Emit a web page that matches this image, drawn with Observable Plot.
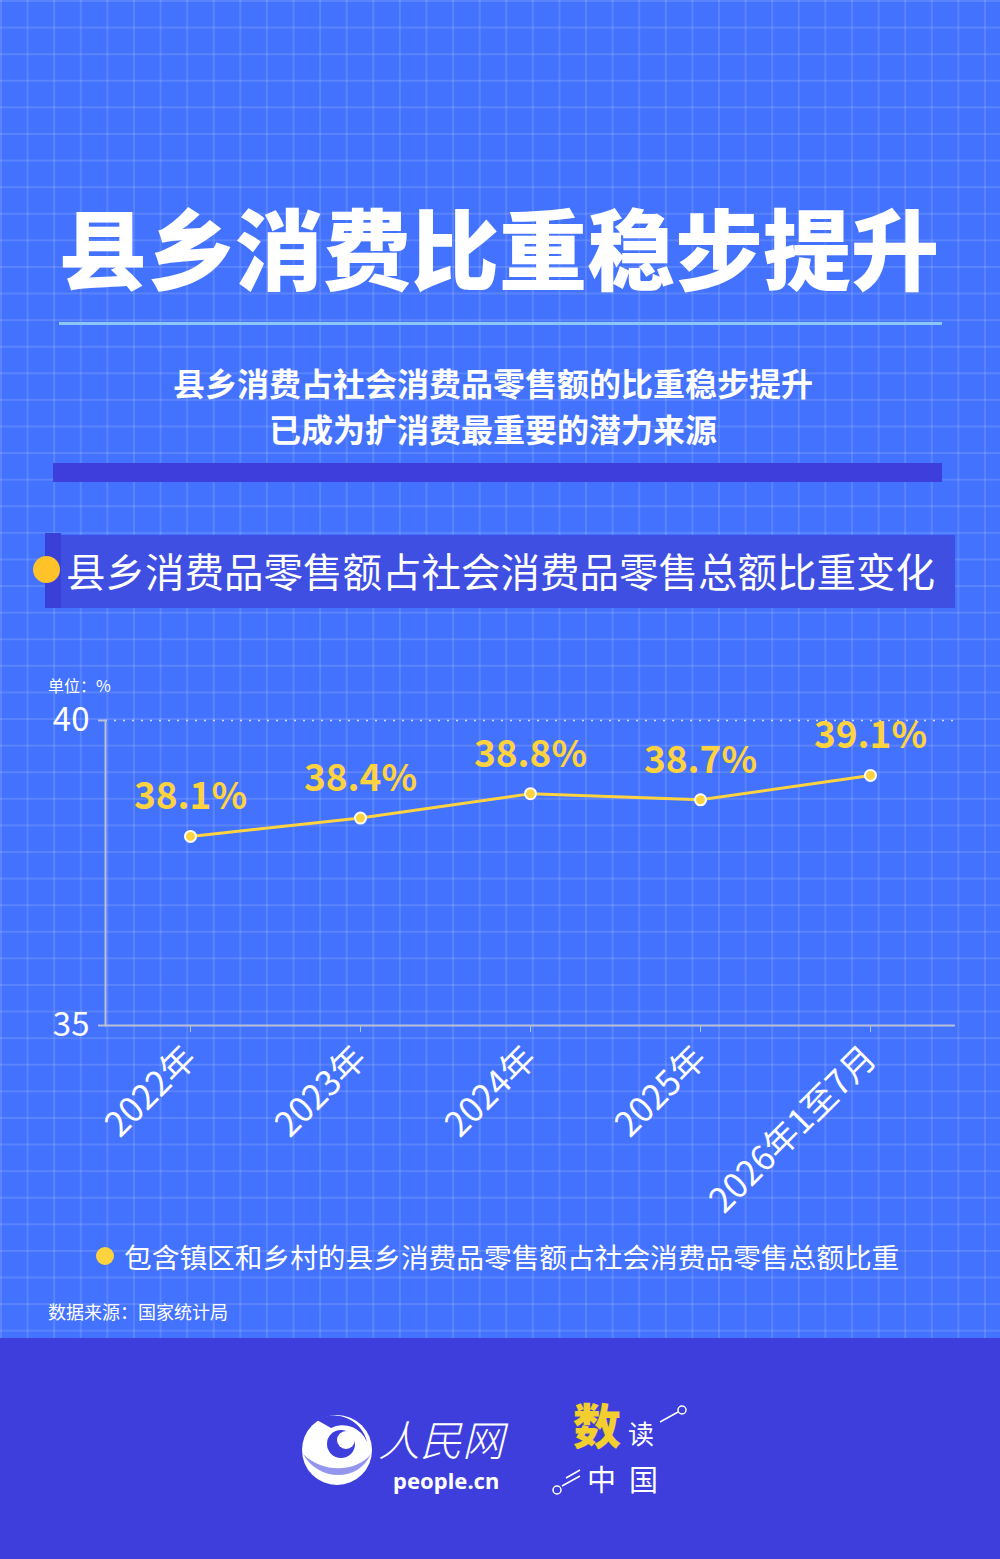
<!DOCTYPE html>
<html>
<head>
<meta charset="utf-8">
<script src="https://cdn.jsdelivr.net/npm/d3@7"></script>
<script src="https://cdn.jsdelivr.net/npm/@observablehq/plot@0.6"></script>
<style>
  html, body { margin:0; padding:0; }
  body {
    width:1000px; height:1559px; position:relative; overflow:hidden;
    font-family:"Noto Sans CJK SC","Noto Sans",sans-serif;
    background-color:#4372FE;
    background-image:
      linear-gradient(rgba(255,255,255,0.12) 1.5px, transparent 1.5px),
      linear-gradient(90deg, rgba(255,255,255,0.12) 1.5px, transparent 1.5px);
    background-size:26.6px 26.6px;
    background-position:0 0;
  }
  .abs { position:absolute; }
  #title { left:0; width:998px; top:193px; text-align:center; color:#fff; font-size:88px; font-weight:900; line-height:104px; }
  #titleRule { left:59px; width:883px; top:322px; height:3px; background:#8CC6F4; }
  #sub { left:0; width:986px; top:359px; text-align:center; color:#fff; font-size:32px; font-weight:700; line-height:46px; }
  #band { left:53px; width:889px; top:463px; height:19px; background:#3D3EDB; }
  #headBox { left:61px; width:894px; top:535px; height:73px; background:#3F4FE2; }
  #headStrip { left:45px; width:16px; top:533px; height:75px; background:#3A40D7; }
  #headDot { left:33px; top:556px; width:27px; height:27px; border-radius:50%; background:#FFC229; }
  #headText { left:66px; top:539px; color:#fff; font-size:39.5px; line-height:62px; white-space:nowrap; }
  #unit { left:48px; top:675px; color:#fff; font-size:16px; line-height:20px; }
  #chart { left:0; top:660px; }
  #legDot { left:96px; top:1247px; width:18px; height:18px; border-radius:50%; background:#FFD33D; }
  #legText { left:124px; top:1238px; color:#fff; font-size:27.7px; line-height:36px; white-space:nowrap; }
  #source { left:48px; top:1298px; color:#fff; font-size:18px; line-height:26px; white-space:nowrap; }
  #footer { left:0; top:1338px; width:1000px; height:221px; background:#3D3EDC; }
</style>
</head>
<body>
<div id="title" class="abs">县乡消费比重稳步提升</div>
<div id="titleRule" class="abs"></div>
<div id="sub" class="abs">县乡消费占社会消费品零售额的比重稳步提升<br>已成为扩消费最重要的潜力来源</div>
<div id="band" class="abs"></div>
<div id="headBox" class="abs"></div>
<div id="headStrip" class="abs"></div>
<div id="headDot" class="abs"></div>
<div id="headText" class="abs">县乡消费品零售额占社会消费品零售总额比重变化</div>
<div id="unit" class="abs">单位：%</div>
<div id="chart" class="abs"></div>
<div id="legDot" class="abs"></div>
<div id="legText" class="abs">包含镇区和乡村的县乡消费品零售额占社会消费品零售总额比重</div>
<div id="source" class="abs">数据来源：国家统计局</div>
<div id="footer" class="abs">
  <svg width="1000" height="221" style="position:absolute;left:0;top:0">
    <!-- people.cn emblem -->
    <g transform="translate(337,112)">
      <circle r="35" fill="#fff"/>
      <path d="M-20,-30 A34,34 0 0 1 30,-8 A26,26 0 0 0 -6,-22 Z" fill="#3D3EDC"/>
      <circle cx="4" cy="-6" r="14" fill="#3D3EDC"/>
      <circle cx="9" cy="-10" r="9" fill="#fff"/>
      <path d="M-34,4 C-20,30 20,34 34,4 C20,22 -14,24 -34,4 Z" fill="#3D3EDC" opacity="0.55"/>
    </g>
    <text x="378" y="118" fill="#fff" font-size="42" font-style="italic" font-family="Noto Sans CJK SC" font-weight="300">人民网</text>
    <text x="393" y="151" fill="#fff" font-size="22" font-weight="700" font-family="Noto Sans">people.cn</text>
    <!-- 数读中国 -->
    <text x="573" y="106" fill="#F2CE2E" font-size="48" font-weight="900" font-family="Noto Sans CJK SC">数</text>
    <text x="628" y="106" fill="#fff" font-size="26" font-family="Noto Sans CJK SC">读</text>
    <text x="587" y="153" fill="#fff" font-size="29" font-family="Noto Sans CJK SC">中</text>
    <text x="629" y="153" fill="#fff" font-size="29" font-family="Noto Sans CJK SC">国</text>
    <line x1="660" y1="84" x2="678" y2="74" stroke="#fff" stroke-width="1.5"/>
    <circle cx="682" cy="72" r="4" fill="none" stroke="#fff" stroke-width="1.5"/>
    <line x1="562" y1="148" x2="580" y2="138" stroke="#fff" stroke-width="1.5"/>
    <line x1="566" y1="140" x2="580" y2="132" stroke="#fff" stroke-width="1.5"/>
    <circle cx="557" cy="152" r="4" fill="none" stroke="#fff" stroke-width="1.5"/>
  </svg>
</div>
<script>
const years = ["2022年", "2023年", "2024年", "2025年", "2026年1至7月"];
const shares = [38.1, 38.4, 38.8, 38.7, 39.1];
const yTicks = [35, 40];
const yDomain = [35, 40];

const data = years.map((year, i) => ({year, share: shares[i]}));
const axisGray = "#B9BFD6";
const yellow = "#FFD23F";

const chart = Plot.plot({
  width: 1000,
  height: 565,
  marginTop: 60,
  marginBottom: 200,
  marginLeft: 105,
  marginRight: 45,
  style: {background: "transparent", color: "#fff", fontFamily: "'Noto Sans CJK SC', 'Noto Sans', sans-serif", overflow: "visible"},
  x: {type: "point", domain: years, padding: 0.5},
  y: {domain: yDomain},
  marks: [
    Plot.ruleY([yDomain[1]], {stroke: "#D5DAEE", strokeDasharray: "2,7", strokeWidth: 1.5}),
    Plot.ruleY([yDomain[0]], {stroke: axisGray, strokeWidth: 2}),
    Plot.frame({anchor: "left", stroke: axisGray, strokeWidth: 2}),
    Plot.axisY({ticks: yTicks, tickFormat: d3.format("d"), tickSize: 7, tickPadding: 9, fontSize: 33, stroke: axisGray, strokeWidth: 2, fill: "#fff", label: null}),
    Plot.axisX({tickRotate: -45, tickSize: 7, tickPadding: 20, fontSize: 34.5, stroke: axisGray, fill: "#fff", label: null}),
    Plot.line(data, {x: "year", y: "share", stroke: yellow, strokeWidth: 3}),
    Plot.dot(data, {x: "year", y: "share", r: 5.5, fill: yellow, stroke: "#fff", strokeWidth: 2}),
    Plot.text(data, {x: "year", y: "share", text: d => d.share.toFixed(1) + "%", dy: -39, fill: yellow, fontSize: 37, fontWeight: "bold"})
  ]
});
document.getElementById("chart").appendChild(chart);
</script>
</body>
</html>
